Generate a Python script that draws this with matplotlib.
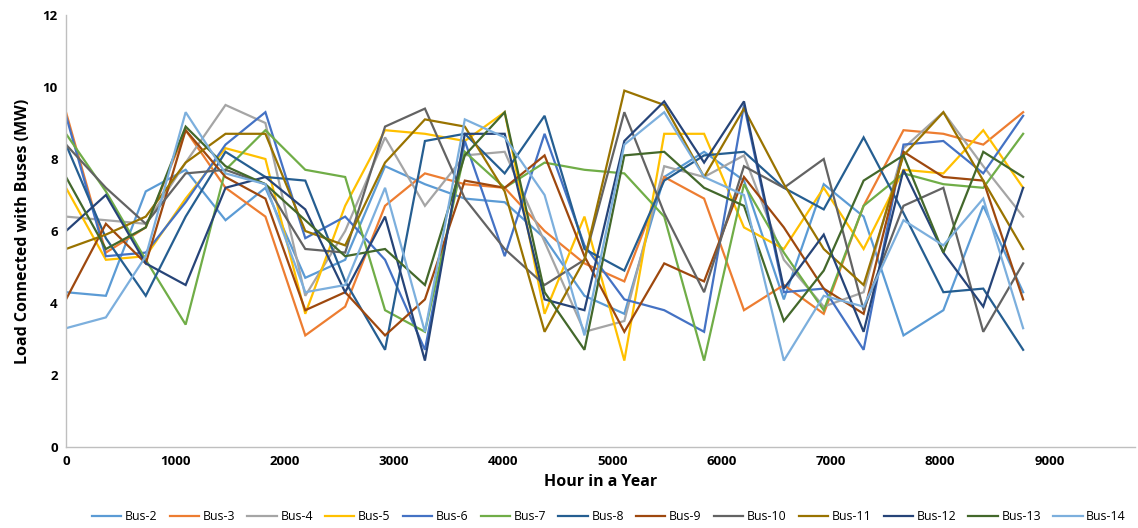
import matplotlib
matplotlib.use("Agg")
import matplotlib.pyplot as plt

hours = [0, 365, 730, 1095, 1460, 1825, 2190, 2555, 2920, 3285, 3650, 4015, 4380,
         4745, 5110, 5475, 5840, 6205, 6570, 6935, 7300, 7665, 8030, 8395, 8760]

bus_names = ["Bus-2", "Bus-3", "Bus-4", "Bus-5", "Bus-6", "Bus-7", "Bus-8",
             "Bus-9", "Bus-10", "Bus-11", "Bus-12", "Bus-13", "Bus-14"]

bus2 = [4.3, 4.2, 7.1, 7.7, 6.3, 7.2, 4.7, 5.2, 7.8, 7.3, 6.9, 6.8, 5.8, 4.2, 3.7, 7.5, 8.2, 7.4, 4.1, 7.3, 6.4, 3.1, 3.8, 6.7, 4.3]
bus3 = [9.3, 5.4, 6.1, 8.8, 7.2, 6.4, 3.1, 3.9, 6.7, 7.6, 7.3, 7.2, 6.0, 5.1, 4.6, 7.5, 6.9, 3.8, 4.5, 3.7, 6.7, 8.8, 8.7, 8.4, 9.3]
bus4 = [6.4, 6.3, 6.2, 7.9, 9.5, 9.0, 4.2, 6.0, 8.6, 6.7, 8.1, 8.2, 5.7, 3.2, 3.5, 7.8, 7.5, 8.1, 5.2, 3.9, 4.3, 8.3, 9.3, 7.8, 6.4]
bus5 = [7.2, 5.2, 5.3, 6.9, 8.3, 8.0, 3.7, 6.7, 8.8, 8.7, 8.5, 9.3, 3.7, 6.4, 2.4, 8.7, 8.7, 6.1, 5.5, 7.2, 5.5, 7.7, 7.6, 8.8, 7.2]
bus6 = [9.2, 5.3, 5.4, 6.8, 8.4, 9.3, 5.8, 6.4, 5.2, 2.7, 8.5, 5.3, 8.7, 5.6, 4.1, 3.8, 3.2, 9.5, 4.3, 4.4, 2.7, 8.4, 8.5, 7.6, 9.2]
bus7 = [8.7, 7.1, 5.2, 3.4, 7.7, 8.8, 7.7, 7.5, 3.8, 3.2, 8.2, 7.2, 7.9, 7.7, 7.6, 6.4, 2.4, 7.3, 5.4, 3.8, 6.7, 7.6, 7.3, 7.2, 8.7]
bus8 = [8.4, 5.8, 4.2, 6.4, 8.2, 7.5, 7.4, 4.6, 2.7, 8.5, 8.7, 7.6, 9.2, 5.5, 4.9, 7.4, 8.1, 8.2, 7.2, 6.6, 8.6, 6.5, 4.3, 4.4, 2.7]
bus9 = [4.1, 6.2, 5.1, 8.8, 7.5, 6.9, 3.8, 4.3, 3.1, 4.1, 7.4, 7.2, 8.1, 5.3, 3.2, 5.1, 4.6, 7.5, 6.1, 4.4, 3.7, 8.2, 7.5, 7.4, 4.1]
bus10 = [8.4, 7.2, 6.2, 7.6, 7.7, 7.3, 5.5, 5.4, 8.9, 9.4, 6.9, 5.5, 4.5, 5.2, 9.3, 6.5, 4.3, 7.8, 7.2, 8.0, 3.8, 6.7, 7.2, 3.2, 5.1]
bus11 = [5.5, 5.9, 6.4, 7.9, 8.7, 8.7, 6.0, 5.6, 7.9, 9.1, 8.9, 7.1, 3.2, 5.2, 9.9, 9.5, 7.5, 9.4, 7.3, 5.5, 4.5, 8.1, 9.3, 7.4, 5.5]
bus12 = [6.0, 7.0, 5.1, 4.5, 7.2, 7.5, 6.6, 4.3, 6.4, 2.4, 8.7, 8.7, 4.1, 3.8, 8.5, 9.6, 7.9, 9.6, 4.4, 5.9, 3.2, 7.7, 5.4, 3.9, 7.2]
bus13 = [7.5, 5.5, 6.1, 8.9, 7.8, 7.3, 6.3, 5.3, 5.5, 4.5, 8.1, 9.3, 4.3, 2.7, 8.1, 8.2, 7.2, 6.7, 3.5, 4.9, 7.4, 8.1, 5.4, 8.2, 7.5]
bus14 = [3.3, 3.6, 5.3, 9.3, 7.6, 7.3, 4.3, 4.5, 7.2, 3.2, 9.1, 8.6, 7.0, 3.1, 8.4, 9.3, 7.5, 7.0, 2.4, 4.2, 3.9, 6.3, 5.6, 6.9, 3.3]

series = [bus2, bus3, bus4, bus5, bus6, bus7, bus8, bus9, bus10, bus11, bus12, bus13, bus14]
colors = ["#5B9BD5", "#ED7D31", "#A5A5A5", "#FFC000", "#4472C4", "#70AD47",
          "#255E91", "#9E480E", "#636363", "#997300", "#264478", "#43682B", "#7CAFDD"]

plt.rcParams['font.family'] = ['Open Sans', 'DejaVu Sans']

fig = plt.figure(figsize=(11.38, 5.28), dpi=100)
ax = fig.add_axes([0.058, 0.1534, 0.939, 0.8182])

for name, vals, c in zip(bus_names, series, colors):
    ax.plot(hours, vals, color=c, lw=1.6, label=name, solid_joinstyle='miter')

ax.set_xlim(0, 9780)
ax.set_ylim(0, 12)
ax.set_xticks(range(0, 9001, 1000))
ax.set_yticks(range(0, 13, 2))
for lab in ax.get_xticklabels() + ax.get_yticklabels():
    lab.set_fontweight('bold')
    lab.set_fontsize(9.5)
ax.tick_params(length=0, pad=6)
for s in ["top", "right"]:
    ax.spines[s].set_visible(False)
for s in ["left", "bottom"]:
    ax.spines[s].set_color("#BFBFBF")
    ax.spines[s].set_linewidth(1.0)

ax.set_xlabel("Hour in a Year", fontsize=11.5, fontweight='bold', labelpad=4)
ax.set_ylabel("Load Connected with Buses (MW)", fontsize=11.5, fontweight='bold', labelpad=8)

leg = fig.legend(loc='lower center', bbox_to_anchor=(0.535, -0.012), ncol=13,
                 frameon=False, handlelength=2.4, handletextpad=0.3, columnspacing=1.0,
                 prop={'size': 8.8})

fig.savefig("out.png", dpi=100)
